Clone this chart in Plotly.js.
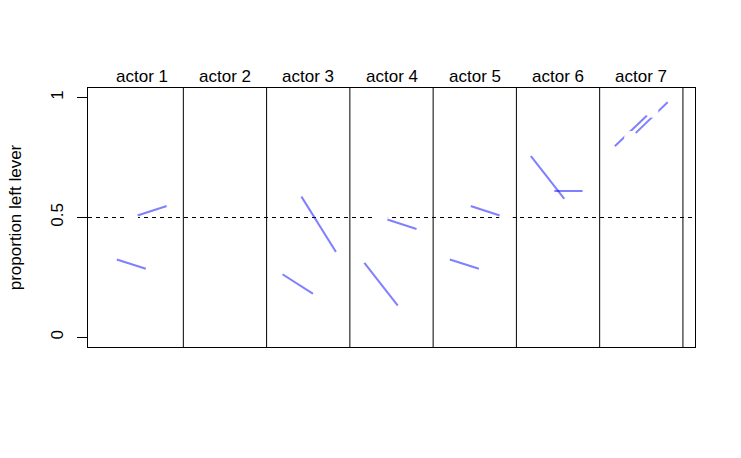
<!DOCTYPE html>
<html>
<head>
<meta charset="utf-8">
<script src="https://cdn.plot.ly/plotly-3.0.1.min.js"></script>
<style>html,body{margin:0;padding:0;background:#fff;}#chart{width:741px;height:458px;}</style>
</head>
<body>
<div id="chart"></div>
<script>
// Proportion of left-lever pulls per actor, by treatment (actor 2 not drawn)
const actors = [1, 2, 3, 4, 5, 6, 7];
const propT1 = [0.333, null, 0.278, 0.333, 0.333, 0.778, 0.778];
const propT2 = [0.500, null, 0.611, 0.500, 0.556, 0.611, 0.833];
const propT3 = [0.278, null, 0.167, 0.111, 0.278, 0.556, 0.944];
const propT4 = [0.556, null, 0.333, 0.444, 0.500, 0.611, 1.000];
const actorLabels = actors.map(a => "actor " + a);
const yTickVals = [0, 0.5, 1];
const yTickText = ["0", "0.5", "1"];

const lineColor = "rgba(0,0,255,0.5)";
const font = "Liberation Sans, Arial, sans-serif";
const yRange = [-0.04, 1.04];
const labelY = 1.1;

const traces = [];
const ptX = [], ptY = [];
actors.forEach((a, i) => {
  const base = (a - 1) * 4;
  const vals = [propT1[i], propT2[i], propT3[i], propT4[i]];
  if (vals[0] !== null) {
    traces.push({x: [base + 1, base + 3], y: [vals[0], vals[2]], mode: "lines",
      line: {color: lineColor, width: 2}, hoverinfo: "skip", showlegend: false});
    traces.push({x: [base + 2, base + 4], y: [vals[1], vals[3]], mode: "lines",
      line: {color: lineColor, width: 2}, hoverinfo: "skip", showlegend: false});
    vals.forEach((v, k) => { ptX.push(base + k + 1); ptY.push(v); });
  }
});
traces.push({x: ptX, y: ptY, mode: "markers", type: "scatter",
  marker: {color: "#ffffff", size: 13.5, line: {width: 0}}, hoverinfo: "skip", showlegend: false});

const shapes = [{type: "line", xref: "paper", x0: 0, x1: 1, yref: "y", y0: 0.5, y1: 0.5,
  line: {color: "#000", width: 1, dash: "4px,4px"}, layer: "below"}];
actors.forEach(a => {
  const v = (a - 1) * 4 + 4.5;
  shapes.push({type: "line", xref: "x", x0: v, x1: v, yref: "paper", y0: 0, y1: 1,
    line: {color: "#000", width: 1}, layer: "below"});
});

const labelPaperY = (labelY - yRange[0]) / (yRange[1] - yRange[0]);
const annotations = actors.map((a, i) => ({
  x: (a - 1) * 4 + 2.5, y: labelPaperY, xref: "x", yref: "paper", text: actorLabels[i],
  showarrow: false, yanchor: "middle", yshift: -3, font: {family: font, size: 17, color: "#000"}
}));

const layout = {
  width: 741, height: 458,
  margin: {l: 88, r: 45.5, t: 88, b: 111},
  paper_bgcolor: "#fff", plot_bgcolor: "#fff",
  font: {family: font, size: 17, color: "#000"},
  showlegend: false,
  xaxis: {range: [-0.08, 29.08], showgrid: false, zeroline: false, showticklabels: false,
    ticks: "", showline: true, mirror: true, linecolor: "#000", linewidth: 1},
  yaxis: {range: yRange, showgrid: false, zeroline: false,
    tickvals: yTickVals, ticktext: yTickText, ticks: "outside", ticklen: 10, tickwidth: 1,
    tickcolor: "#000", tickangle: -90, tickfont: {family: font, size: 17},
    ticklabelstandoff: 7,
    showline: true, mirror: true, linecolor: "#000", linewidth: 1,
    title: {text: "proportion left lever", font: {family: font, size: 17}, standoff: 22}},
  shapes: shapes,
  annotations: annotations
};

Plotly.newPlot("chart", traces, layout, {staticPlot: true, displayModeBar: false});
</script>
</body>
</html>
